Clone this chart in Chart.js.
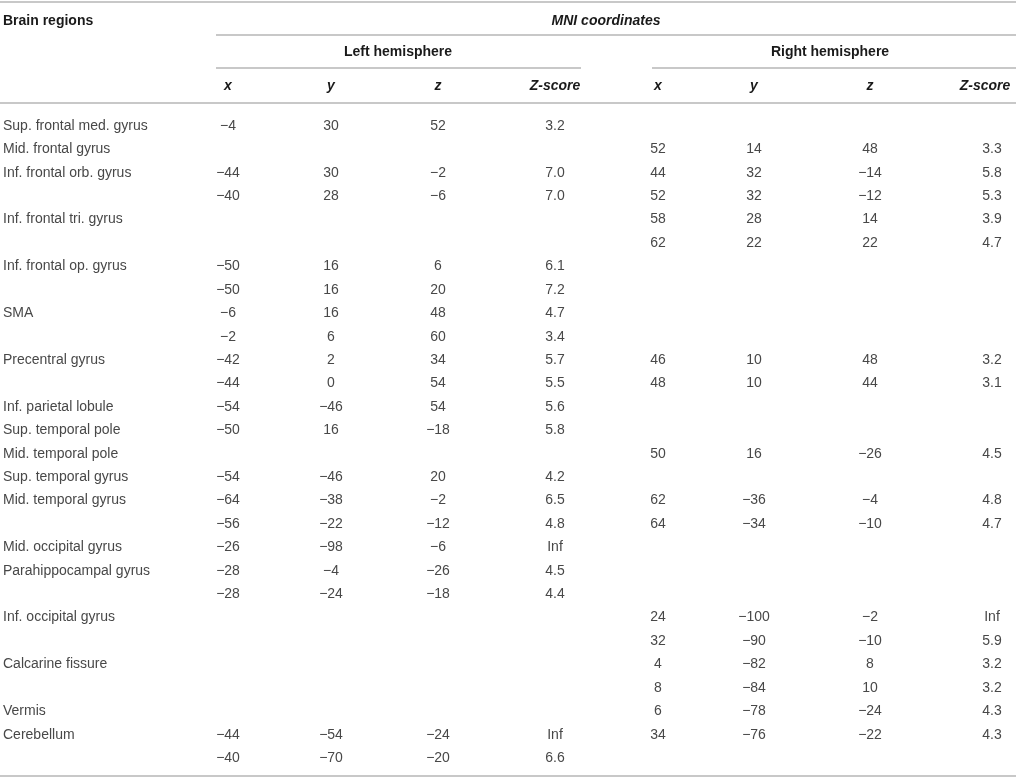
<!DOCTYPE html>
<html>
<head>
<meta charset="utf-8">
<script src="https://cdn.jsdelivr.net/npm/chart.js@4"></script>
<style>
  html, body { margin: 0; padding: 0; background: #fff; }
  canvas { display: block; }
</style>
</head>
<body>
<canvas id="table" width="1016" height="780"></canvas>
<script>
// table content
const regions = ['Sup. frontal med. gyrus', 'Mid. frontal gyrus', 'Inf. frontal orb. gyrus', '', 'Inf. frontal tri. gyrus', '',
    'Inf. frontal op. gyrus', '', 'SMA', '', 'Precentral gyrus', '', 'Inf. parietal lobule', 'Sup. temporal pole',
    'Mid. temporal pole', 'Sup. temporal gyrus', 'Mid. temporal gyrus', '', 'Mid. occipital gyrus', 'Parahippocampal gyrus', '',
    'Inf. occipital gyrus', '', 'Calcarine fissure', '', 'Vermis', 'Cerebellum', ''];
const leftX = [-4, null, -44, -40, null, null, -50, -50, -6, -2, -42, -44, -54, -50, null, -54, -64, -56, -26, -28, -28, null, null, null, null, null, -44, -40];
const leftY = [30, null, 30, 28, null, null, 16, 16, 16, 6, 2, 0, -46, 16, null, -46, -38, -22, -98, -4, -24, null, null, null, null, null, -54, -70];
const leftZ = [52, null, -2, -6, null, null, 6, 20, 48, 60, 34, 54, 54, -18, null, 20, -2, -12, -6, -26, -18, null, null, null, null, null, -24, -20];
const leftScore = [3.2, null, 7.0, 7.0, null, null, 6.1, 7.2, 4.7, 3.4, 5.7, 5.5, 5.6, 5.8, null, 4.2, 6.5, 4.8, Infinity, 4.5, 4.4, null, null, null, null, null, Infinity, 6.6];
const rightX = [null, 52, 44, 52, 58, 62, null, null, null, null, 46, 48, null, null, 50, null, 62, 64, null, null, null, 24, 32, 4, 8, 6, 34, null];
const rightY = [null, 14, 32, 32, 28, 22, null, null, null, null, 10, 10, null, null, 16, null, -36, -34, null, null, null, -100, -90, -82, -84, -78, -76, null];
const rightZ = [null, 48, -14, -12, 14, 22, null, null, null, null, 48, 44, null, null, -26, null, -4, -10, null, null, null, -2, -10, 8, 10, -24, -22, null];
const rightScore = [null, 3.3, 5.8, 5.3, 3.9, 4.7, null, null, null, null, 3.2, 3.1, null, null, 4.5, null, 4.8, 4.7, null, null, null, Infinity, 5.9, 3.2, 3.2, 4.3, 4.3, null];

const title = 'MNI coordinates';
const stubHeader = 'Brain regions';
const groupHeaders = ['Left hemisphere', 'Right hemisphere'];
const colHeaders = ['x', 'y', 'z', 'Z-score'];

// layout (pixels)
const W = 1016, H = 780;
const FIRST_ROW = 126, ROW_H = 23.41;
const REGION_X = 3;
const colX = [228, 331, 438, 555, 658, 754, 870, 992];
const headX = [228, 331, 438, 555, 658, 754, 870, 985];
const LINE = '#c8c8c8';
const FONT = '"Liberation Sans", Arial, sans-serif';

const fmtInt = v => (v < 0 ? '\u2212' + Math.abs(v) : String(v));
const fmtScore = v => (v === Infinity ? 'Inf' : v.toFixed(1));

function column(values, xPos, fmt) {
    const pts = [];
    values.forEach((v, i) => {
        if (v !== null && v !== '') pts.push({ x: xPos, y: i, t: fmt(v) });
    });
    return pts;
}

const columns = [
    [leftX, fmtInt], [leftY, fmtInt], [leftZ, fmtInt], [leftScore, fmtScore],
    [rightX, fmtInt], [rightY, fmtInt], [rightZ, fmtInt], [rightScore, fmtScore]
];

const datasets = [{ data: column(regions, REGION_X, s => s), align: 'left' }];
columns.forEach((c, i) => datasets.push({ data: column(c[0], colX[i], c[1]), align: 'center' }));

function hline(ctx, x1, x2, y) {
    ctx.beginPath();
    ctx.moveTo(x1, y);
    ctx.lineTo(x2, y);
    ctx.stroke();
}

const tablePlugin = {
    id: 'tablePlugin',
    beforeDatasetsDraw(chart) {
        const ctx = chart.ctx;
        ctx.save();
        ctx.strokeStyle = LINE;
        ctx.lineWidth = 2;
        hline(ctx, 0, W, 2);
        hline(ctx, 216, W, 35);
        hline(ctx, 216, 581, 68);
        hline(ctx, 652, W, 68);
        hline(ctx, 0, W, 103);
        hline(ctx, 0, W, 776);

        ctx.fillStyle = '#1a1a1a';
        ctx.textBaseline = 'middle';
        ctx.font = 'bold 14px ' + FONT;
        ctx.textAlign = 'left';
        ctx.fillText(stubHeader, REGION_X, 21);
        ctx.textAlign = 'center';
        ctx.fillText(groupHeaders[0], 398, 52);
        ctx.fillText(groupHeaders[1], 830, 52);
        ctx.font = 'italic bold 14px ' + FONT;
        ctx.fillText(title, 606, 21);
        headX.forEach((x, i) => ctx.fillText(colHeaders[i % 4], x, 86));
        ctx.restore();
    },
    afterDatasetsDraw(chart) {
        const ctx = chart.ctx;
        ctx.save();
        ctx.fillStyle = '#484848';
        ctx.font = '14px ' + FONT;
        ctx.textBaseline = 'middle';
        chart.data.datasets.forEach((ds, i) => {
            const meta = chart.getDatasetMeta(i);
            ctx.textAlign = ds.align;
            meta.data.forEach((el, j) => ctx.fillText(ds.data[j].t, el.x, el.y));
        });
        ctx.restore();
    }
};

new Chart(document.getElementById('table'), {
    type: 'scatter',
    data: { datasets },
    options: {
        responsive: false,
        animation: false,
        events: [],
        layout: { padding: 0 },
        elements: { point: { radius: 0, hoverRadius: 0 } },
        plugins: { legend: { display: false }, tooltip: { enabled: false } },
        scales: {
            x: { type: 'linear', display: false, min: 0, max: W },
            y: { type: 'linear', display: false, reverse: true,
                 min: -FIRST_ROW / ROW_H, max: (H - FIRST_ROW) / ROW_H }
        }
    },
    plugins: [tablePlugin]
});
</script>
</body>
</html>
